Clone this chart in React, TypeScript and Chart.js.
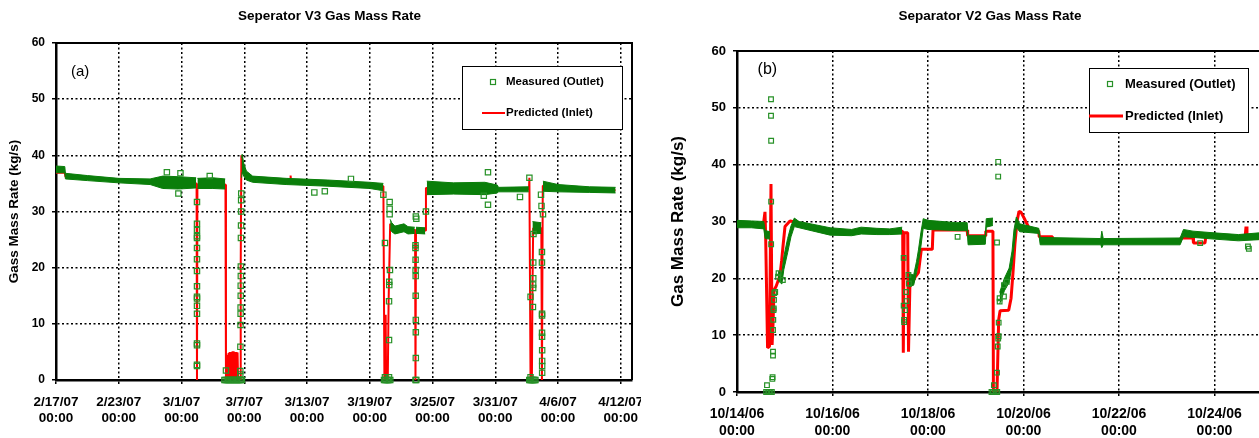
import React, { useEffect, useRef } from 'react';
import { Chart, registerables } from 'chart.js';

Chart.register(...registerables);

type Pt = [number, number];
type Band = [number, number | null, number | null];

// ---------- shared ----------
const SERIES_MEASURED = 'Measured (Outlet)';
const SERIES_PREDICTED = 'Predicted (Inlet)';
const Y_TICKS = [0, 10, 20, 30, 40, 50, 60];

// ---------- chart (a): days since 2/17/07 00:00 ----------
const V3_TITLE = 'Seperator V3 Gas Mass Rate';
const V3_Y_TITLE = 'Gass Mass Rate (kg/s)';
const V3_TAG = '(a)';
const V3_X_TICKS = [0, 6, 12, 18, 24, 30, 36, 42, 48, 54];
const V3_X_LABELS = ['2/17/07', '2/23/07', '3/1/07', '3/7/07', '3/13/07', '3/19/07', '3/25/07', '3/31/07', '4/6/07', '4/12/07'];
const V3_X_TIMES = ['00:00', '00:00', '00:00', '00:00', '00:00', '00:00', '00:00', '00:00', '00:00', '00:00'];

// dense measured band: [day, low, high]
const V3_BAND: Band[] = [
  [0, 36.9, 38.1], [0.84, 36.9, 38.0], [0.9, 35.8, 36.8], [3, 35.5, 36.4], [6, 35.1, 35.9],
  [9, 34.8, 35.8], [10.2, 34.1, 36.3], [11.7, 34.0, 36.2], [13.4, 34.2, 36.0], [13.46, null, null],
  [13.52, 34.1, 35.9], [15, 34.1, 36.0], [16.18, 34.0, 35.8], [16.2, null, null],
  [17.74, 36.0, 39.5], [17.8, 37.0, 40.2], [17.95, 36.3, 38.6], [18.2, 35.6, 37.2], [18.8, 35.2, 36.3],
  [22, 34.8, 35.9], [26, 34.5, 35.6], [30, 34.1, 35.2], [31.3, 33.7, 35.0], [31.35, null, null],
  [31.95, 26.8, 28.6], [32.1, 26.4, 28.0], [32.4, 26.0, 27.4], [33.27, 26.4, 27.8], [33.65, 26.0, 27.3],
  [34.3, 26.1, 27.2], [34.35, null, null], [34.42, 26.1, 27.2], [35.3, 26.0, 27.1], [35.35, null, null],
  [35.45, 33.0, 35.4], [38, 33.1, 35.1], [41, 33.0, 35.2], [42.2, 33.3, 34.7], [42.3, 33.5, 34.3],
  [45.2, 33.5, 34.4], [45.28, null, null], [45.55, 26.0, 28.2], [46.4, 26.1, 28.0], [46.45, null, null],
  [46.55, 33.6, 35.4], [48, 33.5, 34.8], [51, 33.4, 34.4], [53.5, 33.3, 34.3],
];

// individual measured squares: [day, kg/s]
const V3_MEASURED: Pt[] = [
  [10.6, 37.0], [11.7, 33.2], [11.9, 36.8], [14.7, 36.3],
  [13.48, 31.7], [13.48, 27.8], [13.48, 26.7], [13.48, 25.6], [13.48, 25.3], [13.48, 23.5], [13.48, 21.5],
  [13.48, 19.4], [13.48, 16.7], [13.48, 14.8], [13.48, 14.5], [13.48, 13.2], [13.48, 11.8], [13.48, 6.5],
  [13.48, 6.2], [13.48, 2.7], [13.48, 2.5],
  [16.1, 0], [16.22, 0], [16.34, 0], [16.46, 0], [16.58, 0], [16.7, 0], [16.82, 0], [16.94, 0], [17.06, 0],
  [17.18, 0], [17.3, 0], [17.42, 0], [17.54, 0], [17.66, 0], [17.78, 0], [16.25, 1.7],
  [17.62, 1.0], [17.62, 1.6], [17.63, 5.9], [17.64, 9.8], [17.65, 11.8], [17.65, 12.9], [17.66, 15.0],
  [17.66, 16.8], [17.67, 18.5], [17.67, 20.2], [17.68, 25.3], [17.69, 27.5], [17.7, 30.0], [17.7, 32.0], [17.71, 33.2],
  [24.7, 33.4], [25.7, 33.6], [28.2, 35.8],
  [31.3, 33.0], [31.36, 0], [31.45, 24.4], [31.45, 0.5], [31.48, 0], [31.6, 0], [31.72, 0], [31.84, 0], [31.96, 0],
  [31.84, 0.5], [31.84, 7.1], [31.84, 14.0], [31.86, 16.9], [31.86, 17.5], [31.93, 19.6], [31.9, 29.5],
  [31.9, 30.5], [31.9, 31.7],
  [34.4, 29.1], [34.45, 28.7],
  [34.37, 24.0], [34.37, 23.5], [34.38, 21.4], [34.38, 19.6], [34.39, 18.5], [34.39, 15.0], [34.4, 10.7],
  [34.4, 8.5], [34.4, 3.9], [34.37, 0], [34.45, 0], [35.37, 30.0],
  [40.9, 32.8], [41.3, 37.0], [41.3, 31.2], [44.36, 32.6],
  [45.26, 36.0], [45.25, 0], [45.35, 0], [45.45, 0], [45.55, 0], [45.65, 0], [45.75, 0], [45.84, 0],
  [45.37, 0.5], [45.37, 14.8], [45.6, 13.0], [45.62, 16.4], [45.62, 17.0], [45.63, 18.1], [45.63, 20.9], [45.65, 26.0],
  [46.46, 22.8], [46.46, 20.9], [46.47, 11.8], [46.47, 11.5], [46.47, 8.4], [46.47, 7.7], [46.48, 5.3],
  [46.48, 3.4], [46.48, 2.5], [46.48, 1.3], [46.37, 33.0], [46.42, 31.0], [46.56, 29.5],
];

// predicted line: [day, kg/s]
const V3_PREDICTED: Pt[] = [
  [0, 36.9], [0.84, 36.9], [0.9, 36.2], [3, 35.9], [6, 35.5], [9, 35.3], [13.44, 35.0], [13.48, 0], [13.52, 34.8],
  [16.2, 34.8], [16.25, 0],
  [16.27, 4.2], [16.29, 0.2], [16.31, 4.3], [16.33, 0.2], [16.35, 4.3], [16.37, 0.2], [16.39, 4.5], [16.41, 0.2],
  [16.43, 4.4], [16.45, 0.2], [16.47, 4.6], [16.49, 0.2], [16.51, 4.8], [16.53, 0.2], [16.55, 4.7], [16.57, 0.2],
  [16.59, 4.9], [16.61, 0.2], [16.63, 5.0], [16.65, 0.2], [16.67, 4.8], [16.69, 0.2], [16.71, 5.0], [16.73, 0.2],
  [16.75, 5.0], [16.77, 0.2], [16.79, 4.9], [16.81, 0.2], [16.83, 5.0], [16.85, 0.2], [16.87, 5.1], [16.89, 0.2],
  [16.91, 5.0], [16.93, 0.2], [16.95, 4.9], [16.97, 0.2], [16.99, 5.1], [17.01, 0.2], [17.03, 5.0], [17.05, 0.2],
  [17.07, 4.9], [17.09, 0.2], [17.11, 5.0], [17.13, 0.2], [17.15, 4.9], [17.17, 0.2], [17.19, 5.0], [17.21, 0.2],
  [17.23, 4.9], [17.25, 0.2], [17.27, 5.0], [17.29, 0.2], [17.31, 4.9], [17.33, 0.2], [17.35, 4.8], [17.37, 0.2],
  [17.39, 4.7], [17.41, 0],
  [17.6, 0], [17.66, 20.0], [17.72, 40.0], [17.8, 39.0], [17.95, 37.6], [18.2, 36.4], [18.8, 35.8],
  [22.38, 35.3], [22.43, 36.4], [22.48, 35.3], [26, 35.0], [31.3, 34.5], [31.4, 0], [31.48, 0], [31.52, 11.6],
  [31.56, 0], [31.72, 0], [31.8, 14.0], [31.86, 19.5], [31.95, 27.8], [32.2, 27.0], [34.33, 26.7], [34.37, 0],
  [34.42, 26.7], [35.33, 26.6], [35.37, 34.2], [38, 34.1], [42, 34.0], [45.22, 33.9], [45.26, 36.0], [45.37, 0],
  [45.5, 0], [45.55, 15.0], [45.62, 27.0], [46.4, 27.0], [46.46, 0], [46.54, 34.6], [48, 34.2], [53.5, 33.8],
];

// ---------- chart (b): days since 10/14/06 00:00 ----------
const V2_TITLE = 'Separator V2 Gas Mass Rate';
const V2_Y_TITLE = 'Gas Mass Rate (kg/s)';
const V2_TAG = '(b)';
const V2_X_TICKS = [0, 2, 4, 6, 8, 10, 12];
const V2_X_LABELS = ['10/14/06', '10/16/06', '10/18/06', '10/20/06', '10/22/06', '10/24/06', '10/26/06'];
const V2_X_TIMES = ['00:00', '00:00', '00:00', '00:00', '00:00', '00:00', '00:00'];

const V2_BAND: Band[] = [
  [0, 28.9, 30.2], [0.3, 28.9, 30.1], [0.56, 28.7, 30.0], [0.59, 27.0, 28.4], [0.69, 26.9, 28.2], [0.7, null, null],
  [0.86, 19.6, 21.2], [0.94, 19.0, 21.0], [0.98, 21.5, 23.8], [1.06, 24.5, 27.0], [1.13, 27.3, 29.2],
  [1.2, 29.1, 30.6], [1.3, 28.9, 30.0], [1.95, 27.6, 28.9], [2.4, 27.5, 28.6], [2.6, 27.8, 29.0],
  [2.93, 27.7, 28.8], [3.2, 27.7, 28.7], [3.46, 27.8, 29.0], [3.47, null, null],
  [3.6, 18.5, 20.8], [3.7, 18.8, 20.6], [3.76, 21.0, 23.0], [3.8, 22.8, 25.0], [3.85, 25.5, 28.0],
  [3.9, 28.8, 30.5], [4.0, 28.6, 30.2], [4.6, 28.4, 29.8], [4.82, 28.4, 29.8], [4.84, 25.9, 27.5],
  [5.2, 26.0, 27.5], [5.22, 29.0, 30.5], [5.36, 29.3, 30.6], [5.37, null, null],
  [5.5, 15.5, 17.5], [5.6, 17.8, 20.0], [5.7, 19.3, 21.8], [5.76, 22.3, 24.8], [5.8, 25.5, 28.5],
  [5.85, 29.0, 30.8], [5.92, 28.2, 29.6], [6.32, 27.9, 28.8], [6.35, 25.9, 27.2], [7.62, 25.9, 27.0],
  [7.64, 25.4, 28.3], [7.67, 25.9, 27.0], [9.28, 25.9, 27.1], [9.35, 27.3, 28.6], [9.55, 27.2, 28.3],
  [10.0, 26.9, 28.0], [10.5, 26.6, 27.7], [10.93, 26.8, 28.0], [11.5, 26.7, 27.8],
];

const V2_MEASURED: Pt[] = [
  [0.712, 51.5], [0.712, 48.6], [0.715, 44.2], [0.715, 33.5], [0.715, 26.0],
  [0.628, 1.2], [0.61, 0], [0.64, 0], [0.67, 0], [0.7, 0], [0.73, 0],
  [0.74, 2.3], [0.745, 2.6], [0.754, 7.1], [0.754, 6.4], [0.754, 10.9], [0.76, 12.7], [0.765, 14.4],
  [0.77, 14.7], [0.775, 16.2], [0.78, 17.4], [0.8, 17.6], [0.86, 20.3], [0.87, 20.9], [0.96, 19.7],
  [3.49, 23.6], [3.49, 15.2], [3.5, 12.7], [3.5, 12.3], [3.52, 14.4], [3.54, 17.6], [3.55, 16.0],
  [3.59, 20.6], [3.6, 19.1], [4.62, 27.3],
  [5.33, 0], [5.36, 0], [5.39, 0], [5.42, 0], [5.45, 0], [5.38, 1.2], [5.445, 26.3], [5.445, 3.4],
  [5.46, 8.0], [5.47, 9.4], [5.48, 12.2], [5.48, 9.8], [5.5, 15.9], [5.5, 16.5], [5.59, 16.8], [5.59, 18.8],
  [5.65, 19.4], [5.47, 40.5], [5.47, 37.9],
  [9.7, 26.2], [10.7, 25.6], [10.72, 25.2],
];

const V2_PREDICTED: Pt[] = [
  [0, 29.4], [0.55, 29.3], [0.586, 31.7], [0.6, 27.5], [0.64, 7.8], [0.68, 8.0], [0.712, 36.6], [0.735, 8.3],
  [0.755, 12.0], [0.775, 17.9], [0.82, 18.6], [0.9, 20.5], [0.936, 23.2], [0.963, 25.6], [1.005, 29.1],
  [1.11, 30.1], [1.215, 29.9], [1.3, 29.3], [1.95, 28.2], [2.6, 28.3], [2.93, 28.2], [3.47, 28.3],
  [3.483, 6.9], [3.5, 28.0], [3.575, 28.0], [3.592, 7.1], [3.62, 18.5], [3.73, 20.2], [3.8, 21.0],
  [3.86, 25.1], [4.09, 25.1], [4.105, 28.5], [4.82, 28.5], [4.831, 27.5], [5.2, 27.5], [5.21, 28.3],
  [5.36, 28.3], [5.37, 0], [5.445, 0], [5.48, 12.7], [5.51, 14.3], [5.69, 14.4], [5.74, 16.5], [5.78, 21.0],
  [5.82, 26.0], [5.864, 30.0], [5.906, 31.8], [5.95, 31.6], [6.031, 30.3], [6.136, 28.5], [6.32, 28.3],
  [6.33, 27.3], [6.607, 27.3], [6.62, 26.5], [9.28, 26.5], [9.3, 27.1], [9.55, 27.1], [9.56, 26.2],
  [9.8, 26.2], [9.82, 27.4], [10.64, 27.1], [10.66, 29.1], [10.68, 27.1], [11.5, 27.0],
];

// ---------- styling ----------
const FONT = '"Liberation Sans", Arial, Helvetica, sans-serif';
const BAND_GREEN = '#0a7e0a';
const SQUARE_GREEN = '#279127';
const RED = '#ff0000';

interface Look {
  width: number; height: number; left: number;
  area: { left: number; top: number; right: number; bottom: number };
  xMax: number;
  xTickSize: number; xTickLineHeight: number; xTickPad: number;
  yTickSize: number; yTickPad: number;
  yTitleSize: number; yTitlePad: number;
  titleSize: number; titleX: number; titleY: number;
  tagSize: number; tagX: number; tagY: number;
  legend: { x: number; y: number; w: number; h: number; font: number; markerX: number; markerS: number; textX: number; row1: number; row2: number; lineX1: number; lineX2: number; lineW: number };
  redWidth: number; squareRadius: number;
}

interface Spec {
  title: string; yTitle: string; tag: string;
  xTicks: number[]; xLabels: string[]; xTimes: string[];
  band: Band[]; measured: Pt[]; predicted: Pt[];
  look: Look;
}

function decoPlugin(spec: Spec) {
  const L = spec.look;
  return {
    id: 'deco',
    afterDraw(chart: any) {
      const { ctx, chartArea: a } = chart;
      ctx.save();
      ctx.strokeStyle = '#000';
      ctx.lineWidth = 2;
      ctx.beginPath();
      ctx.moveTo(a.left, a.top);
      ctx.lineTo(a.right, a.top);
      ctx.lineTo(a.right, a.bottom);
      ctx.stroke();

      ctx.fillStyle = '#000';
      ctx.textBaseline = 'middle';
      ctx.textAlign = 'center';
      ctx.font = `bold ${L.titleSize}px ${FONT}`;
      ctx.fillText(spec.title, L.titleX, L.titleY);

      ctx.textAlign = 'left';
      ctx.font = `${L.tagSize}px ${FONT}`;
      ctx.fillText(spec.tag, L.tagX, L.tagY);

      const g = L.legend;
      ctx.fillStyle = '#fff';
      ctx.fillRect(g.x, g.y, g.w, g.h);
      ctx.strokeStyle = '#000';
      ctx.lineWidth = 1;
      ctx.strokeRect(g.x + 0.5, g.y + 0.5, g.w, g.h);
      ctx.strokeStyle = SQUARE_GREEN;
      ctx.lineWidth = 1.2;
      ctx.strokeRect(g.markerX - g.markerS / 2, g.row1 - g.markerS / 2, g.markerS, g.markerS);
      ctx.strokeStyle = RED;
      ctx.lineWidth = g.lineW;
      ctx.beginPath();
      ctx.moveTo(g.lineX1, g.row2);
      ctx.lineTo(g.lineX2, g.row2);
      ctx.stroke();
      ctx.fillStyle = '#000';
      ctx.font = `bold ${g.font}px ${FONT}`;
      ctx.fillText(SERIES_MEASURED, g.textX, g.row1);
      ctx.fillText(SERIES_PREDICTED, g.textX, g.row2);
      ctx.restore();
    },
  };
}

function makeConfig(spec: Spec): any {
  const L = spec.look;
  const lo = spec.band.map(([x, l]) => ({ x, y: l }));
  const hi = spec.band.map(([x, , h]) => ({ x, y: h }));
  const gridCommon = {
    color: '#000',
    lineWidth: 1.5,
    tickLength: 4,
    tickWidth: 1.5,
    tickColor: '#000',
    tickBorderDash: [],
  };
  const borderCommon = { display: true, color: '#000', width: 2.5, dash: [2, 2.5] };
  return {
    type: 'line',
    data: {
      datasets: [
        { label: 'band-lo', data: lo, borderColor: BAND_GREEN, borderWidth: 1, pointRadius: 0, fill: false, order: 2, clip: false },
        { label: 'band-hi', data: hi, borderColor: BAND_GREEN, borderWidth: 1, pointRadius: 0, fill: '-1', backgroundColor: BAND_GREEN, order: 1, clip: false },
        { label: SERIES_PREDICTED, data: spec.predicted.map(([x, y]) => ({ x, y })), borderColor: RED, borderWidth: L.redWidth, pointRadius: 0, fill: false, order: 3, borderJoinStyle: 'bevel' },
        {
          label: SERIES_MEASURED, data: spec.measured.map(([x, y]) => ({ x, y })), showLine: false,
          pointStyle: 'rect', pointRadius: L.squareRadius, pointBorderColor: SQUARE_GREEN,
          pointBackgroundColor: 'rgba(0,0,0,0)', pointBorderWidth: 1.2, order: 0, clip: false,
        },
      ],
    },
    options: {
      responsive: false,
      animation: false,
      events: [],
      layout: {
        autoPadding: false,
        padding: { left: 0, top: L.area.top, right: L.width - L.area.right, bottom: 0 },
      },
      elements: { line: { tension: 0 } },
      plugins: { legend: { display: false }, title: { display: false }, tooltip: { enabled: false } },
      scales: {
        x: {
          type: 'linear',
          min: 0,
          max: L.xMax,
          afterBuildTicks: (s: any) => { s.ticks = spec.xTicks.map((v) => ({ value: v })); },
          afterFit: (s: any) => { s.height = L.height - L.area.bottom; s.paddingLeft = 0; s.paddingRight = 0; },
          ticks: {
            autoSkip: false, maxRotation: 0, minRotation: 0, padding: L.xTickPad, color: '#000',
            font: { family: FONT, size: L.xTickSize, weight: 'bold', lineHeight: L.xTickLineHeight },
            callback: (_v: any, i: number) => [spec.xLabels[i], spec.xTimes[i]],
          },
          grid: gridCommon,
          border: borderCommon,
        },
        y: {
          type: 'linear',
          min: 0,
          max: 60,
          afterBuildTicks: (s: any) => { s.ticks = Y_TICKS.map((v) => ({ value: v })); },
          afterFit: (s: any) => { s.width = L.area.left; s.paddingTop = 0; s.paddingBottom = 0; },
          ticks: {
            padding: L.yTickPad, color: '#000',
            font: { family: FONT, size: L.yTickSize, weight: 'bold' },
          },
          title: {
            display: true, text: spec.yTitle, color: '#000',
            font: { family: FONT, size: L.yTitleSize, weight: 'bold', lineHeight: 1.2 },
            padding: { top: L.yTitlePad, bottom: 0 },
          },
          grid: gridCommon,
          border: borderCommon,
        },
      },
    },
    plugins: [decoPlugin(spec)],
  };
}

const LOOK_A: Look = {
  width: 641, height: 438, left: 0,
  area: { left: 56, top: 43, right: 632, bottom: 380 },
  xMax: 55.07,
  xTickSize: 13.5, xTickLineHeight: 1.2, xTickPad: 10,
  yTickSize: 12, yTickPad: 7,
  yTitleSize: 13.5, yTitlePad: 6,
  titleSize: 13.5, titleX: 329.5, titleY: 16,
  tagSize: 15, tagX: 71, tagY: 72,
  legend: { x: 462, y: 66, w: 160, h: 63, font: 11.5, markerX: 493, markerS: 5, textX: 506, row1: 82, row2: 113, lineX1: 482, lineX2: 505, lineW: 2 },
  redWidth: 2, squareRadius: 3.75,
};

const LOOK_B: Look = {
  width: 700, height: 438, left: 645,
  area: { left: 92, top: 51, right: 92 + 12.2 * 47.75, bottom: 392 },
  xMax: 12.2,
  xTickSize: 14, xTickLineHeight: 1.25, xTickPad: 9,
  yTickSize: 13, yTickPad: 7,
  yTitleSize: 17, yTitlePad: 23.3,
  titleSize: 13.5, titleX: 345, titleY: 16,
  tagSize: 16, tagX: 112.6, tagY: 70,
  legend: { x: 444, y: 68, w: 159, h: 64, font: 13, markerX: 465, markerS: 5, textX: 480, row1: 84, row2: 116, lineX1: 444, lineX2: 478, lineW: 3 },
  redWidth: 3, squareRadius: 3.3,
};

const SPEC_A: Spec = {
  title: V3_TITLE, yTitle: V3_Y_TITLE, tag: V3_TAG,
  xTicks: V3_X_TICKS, xLabels: V3_X_LABELS, xTimes: V3_X_TIMES,
  band: V3_BAND, measured: V3_MEASURED, predicted: V3_PREDICTED, look: LOOK_A,
};

const SPEC_B: Spec = {
  title: V2_TITLE, yTitle: V2_Y_TITLE, tag: V2_TAG,
  xTicks: V2_X_TICKS, xLabels: V2_X_LABELS, xTimes: V2_X_TIMES,
  band: V2_BAND, measured: V2_MEASURED, predicted: V2_PREDICTED, look: LOOK_B,
};

function Panel({ spec }: { spec: Spec }) {
  const ref = useRef<HTMLCanvasElement | null>(null);
  useEffect(() => {
    if (!ref.current) return;
    const chart = new Chart(ref.current, makeConfig(spec));
    return () => chart.destroy();
  }, [spec]);
  const L = spec.look;
  return (
    <canvas
      ref={ref}
      width={L.width}
      height={L.height}
      style={{ position: 'absolute', left: L.left, top: 0, width: L.width, height: L.height }}
    />
  );
}

export default function App() {
  return (
    <div style={{ position: 'fixed', left: 0, top: 0, width: 1259, height: 438, overflow: 'hidden', background: '#fff' }}>
      <Panel spec={SPEC_A} />
      <Panel spec={SPEC_B} />
    </div>
  );
}
